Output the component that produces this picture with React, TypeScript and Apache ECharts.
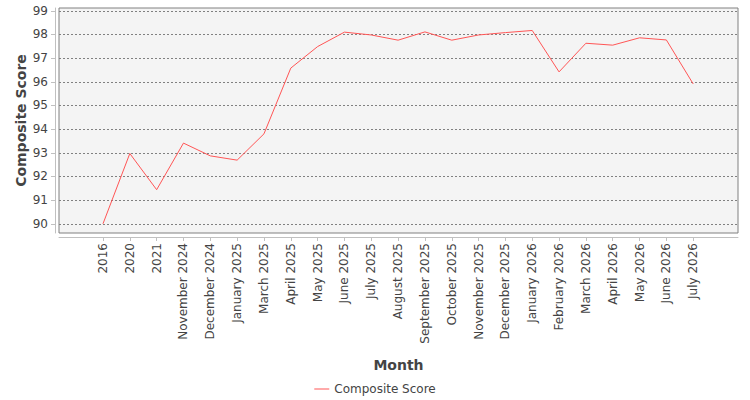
import React, { useEffect, useRef } from "react";
import * as echarts from "echarts";

const categories: string[] = [
  "2016", "2020", "2021", "November 2024", "December 2024", "January 2025",
  "March 2025", "April 2025", "May 2025", "June 2025", "July 2025", "August 2025",
  "September 2025", "October 2025", "November 2025", "December 2025", "January 2026",
  "February 2026", "March 2026", "April 2026", "May 2026", "June 2026", "July 2026",
];

const compositeScore: number[] = [
  90.0, 92.97, 91.44, 93.41, 92.87, 92.69, 93.8, 96.58, 97.49, 98.1, 97.98, 97.76,
  98.11, 97.76, 97.98, 98.08, 98.17, 96.42, 97.63, 97.55, 97.86, 97.77, 95.91,
];

const yTicks: number[] = [90, 91, 92, 93, 94, 95, 96, 97, 98, 99];

const FONT = "DejaVu Sans";
const TEXT = "#444444";

export default function App() {
  const ref = useRef<HTMLDivElement>(null);
  useEffect(() => {
    if (!ref.current) return;
    const chart = echarts.init(ref.current, undefined, { renderer: "svg" });
    const xIdx = categories.map((_, i) => i);
    chart.setOption({
      animation: false,
      backgroundColor: "#ffffff",
      textStyle: { fontFamily: FONT },
      grid: {
        left: 59,
        right: 12,
        top: 8,
        bottom: 167,
        show: true,
        backgroundColor: "#f4f4f4",
        borderColor: "#808080",
        borderWidth: 1,
      },
      xAxis: {
        type: "value",
        min: -1.64,
        max: 23.67,
        offset: 4,
        name: "Month",
        nameLocation: "middle",
        nameGap: 121,
        nameTextStyle: { fontFamily: FONT, fontSize: 14, fontWeight: "bold", color: TEXT },
        axisLine: { show: true, onZero: false, lineStyle: { color: "#c0c0c0", width: 1 } },
        axisTick: { show: true, length: 4, customValues: xIdx, lineStyle: { color: "#c0c0c0" } },
        axisLabel: {
          customValues: xIdx,
          rotate: 90,
          margin: 6,
          fontFamily: FONT,
          fontSize: 12,
          color: TEXT,
          formatter: (v: number) => categories[Math.round(v)] ?? "",
        },
        splitLine: { show: false },
      },
      yAxis: {
        type: "value",
        min: 89.61,
        max: 99.12,
        offset: 4,
        name: "Composite Score",
        nameLocation: "middle",
        nameGap: 27,
        nameMoveOverlap: false,
        nameTextStyle: { fontFamily: FONT, fontSize: 14, fontWeight: "bold", color: TEXT },
        axisLine: { show: true, onZero: false, lineStyle: { color: "#c0c0c0", width: 1 } },
        axisTick: { show: true, length: 4, customValues: yTicks, lineStyle: { color: "#c0c0c0" } },
        axisLabel: {
          customValues: yTicks,
          margin: 7,
          fontFamily: FONT,
          fontSize: 12,
          color: TEXT,
        },
        splitLine: { show: true, lineStyle: { color: "#808080", type: [2, 2], width: 1 } },
      },
      legend: {
        bottom: 5,
        left: "center",
        padding: 0,
        icon: "rect",
        itemWidth: 15,
        itemHeight: 1,
        itemGap: 10,
        textStyle: { fontFamily: FONT, fontSize: 12, color: TEXT },
        data: ["Composite Score"],
      },
      series: [
        {
          name: "Composite Score",
          type: "line",
          symbol: "none",
          showSymbol: false,
          lineStyle: { color: "#ff5555", width: 1 },
          itemStyle: { color: "#ff5555" },
          data: compositeScore.map((v, i) => [i, v]),
        },
      ],
    });
    return () => chart.dispose();
  }, []);
  return (
    <div
      ref={ref}
      style={{ position: "fixed", left: 0, top: 0, width: 750, height: 400 }}
    />
  );
}
